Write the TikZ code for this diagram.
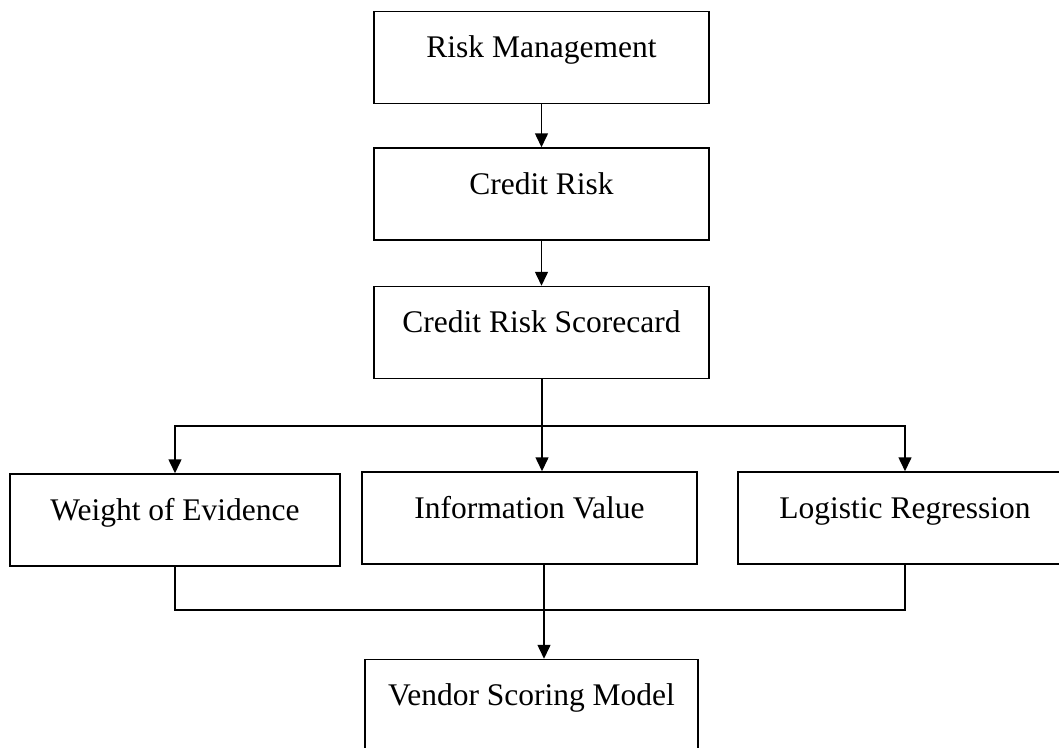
\documentclass[tikz,border=0pt]{standalone}
\usepackage{fontspec}
\setmainfont{Liberation Serif}
\usetikzlibrary{arrows.meta}

\tikzset{
  box/.style={draw, line width=1.5pt, inner sep=0pt,
    minimum width=#1, text height=46pt, text depth=46pt,
    font=\fontsize{31.5}{38}\selectfont},
  link/.style={line width=1.5pt, -{Triangle[length=14pt,width=13pt]}},
}

\begin{document}
\begin{tikzpicture}[x=1pt,y=-1pt]

\useasboundingbox (0,0) rectangle (1059,747);
\clip (0,0) rectangle (1059,747);

\node[box=335] (rm)  at (541.5,57.5) {Risk Management};
\node[box=335] (cr)  at (541.5,194)  {Credit Risk};
\node[box=335] (crs) at (541.5,332.5) {Credit Risk Scorecard};

\node[box=330] (woe) at (175,520)   {Weight of Evidence};
\node[box=335] (iv)  at (529.5,518) {Information Value};
\node[box=334] (lr)  at (905,518)   {Logistic Regression};

\node[box=333] (vsm) at (531.5,705.5) {Vendor Scoring Model};

\coordinate (split) at (542,426);
\coordinate (join) at (544,610);

\draw[link] (rm) -- (cr);
\draw[link] (cr) -- (crs);

\draw[line width=1.5pt] (crs.south -| split) -- (split);
\draw[link] (split) -| (woe.north);
\draw[link] (split) -| (lr.north);
\draw[link] (split) -- (split |- iv.north);

\draw[line width=1.5pt] (woe.south) |- (join) -| (lr.south);
\draw[line width=1.5pt] (iv.south -| join) -- (join);
\draw[link] (join) -- (join |- vsm.north);
\end{tikzpicture}
\end{document}
